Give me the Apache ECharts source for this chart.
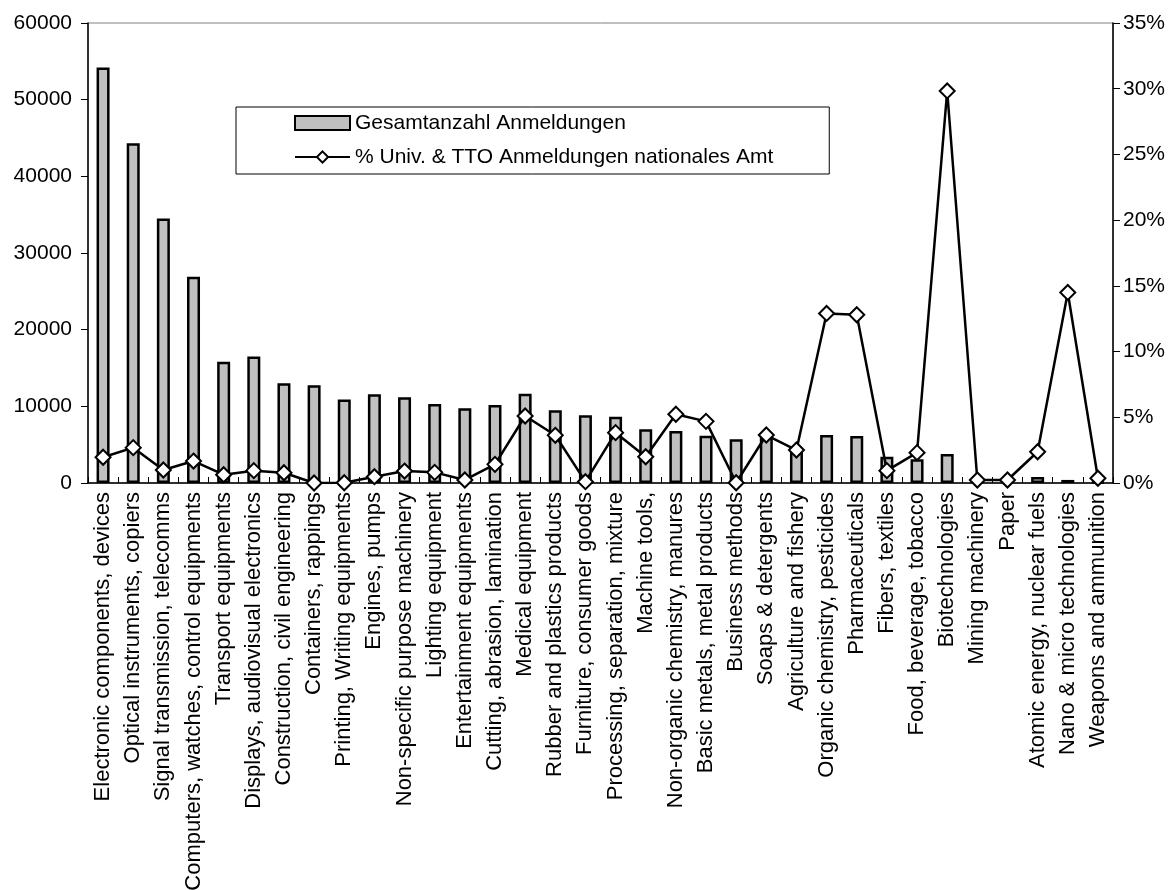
<!DOCTYPE html>
<html>
<head>
<meta charset="utf-8">
<script src="https://cdn.jsdelivr.net/npm/echarts@6/dist/echarts.min.js"></script>
<style>
html,body{margin:0;padding:0;background:#fff;}
#chart{width:1176px;height:890px;}
</style>
</head>
<body>
<div id="chart"></div>
<script>
const categories = [
  "Electronic components, devices",
  "Optical instruments, copiers",
  "Signal transmission, telecomms",
  "Computers, watches, control equipments",
  "Transport equipments",
  "Displays, audiovisual electronics",
  "Construction, civil engineering",
  "Containers, rappings",
  "Printing, Writing equipments",
  "Engines, pumps",
  "Non-specific purpose machinery",
  "Lighting equipment",
  "Entertainment equipments",
  "Cutting, abrasion, lamination",
  "Medical equipment",
  "Rubber and plastics products",
  "Furniture, consumer goods",
  "Processing, separation, mixture",
  "Machine tools,",
  "Non-organic chemistry, manures",
  "Basic metals, metal products",
  "Business methods",
  "Soaps & detergents",
  "Agriculture and fishery",
  "Organic chemistry, pesticides",
  "Pharmaceuticals",
  "Fibers, textiles",
  "Food, beverage, tobacco",
  "Biotechnologies",
  "Mining machinery",
  "Paper",
  "Atomic energy, nuclear fuels",
  "Nano & micro technologies",
  "Weapons and ammunition"
];
const totalFilings = [
  54200, 44300, 34500, 26900, 15800, 16500, 13000, 12750, 10900, 11570,
  11180, 10300, 9740, 10170, 11650, 9480, 8830, 8650, 7000, 6780,
  6170, 5700, 6300, 4600, 6260, 6130, 3430, 3090, 3780, 400,
  300, 780, 400, 100
];
const univShare = [
  1.96, 2.69, 0.99, 1.67, 0.63, 0.94, 0.78, 0.0, 0.02, 0.48,
  0.91, 0.81, 0.23, 1.42, 5.10, 3.63, 0.10, 3.83, 2.00, 5.23,
  4.69, 0.02, 3.65, 2.51, 12.9, 12.8, 0.94, 2.31, 29.83, 0.23,
  0.23, 2.38, 14.5, 0.36
];
const leftTicks = {min: 0, max: 60000, interval: 10000};
const rightTicks = {min: 0, max: 35, interval: 5};
const seriesNames = ["Gesamtanzahl Anmeldungen", "% Univ. & TTO Anmeldungen nationales Amt"];

const FONT = "'Liberation Sans', Arial, sans-serif";
const chart = echarts.init(document.getElementById('chart'), null, {renderer: 'canvas'});
chart.setOption({
  animation: false,
  backgroundColor: '#fff',
  textStyle: {fontFamily: FONT, color: '#000'},
  grid: {left: 88, right: 63, top: 23, bottom: 407, show: true, borderColor: '#808080', borderWidth: 1, containLabel: false, outerBoundsMode: 'none'},
  legend: {
    orient: 'vertical',
    left: 236,
    top: 107,
    padding: [4, 56, 5, 58],
    borderColor: '#000',
    borderWidth: 1,
    itemWidth: 55,
    itemHeight: 14,
    itemGap: 10,
    textStyle: {fontFamily: FONT, fontSize: 21, color: '#000', lineHeight: 24},
    data: [
      {name: seriesNames[0], icon: 'rect'},
      {name: seriesNames[1]}
    ]
  },
  xAxis: {
    type: 'category',
    data: categories,
    axisLine: {lineStyle: {color: '#000', width: 1.5}},
    axisTick: {show: true, inside: true, length: 6, lineStyle: {color: '#000'}},
    axisLabel: {rotate: 90, interval: 0, fontSize: 22, color: '#000', fontFamily: FONT, margin: 9}
  },
  yAxis: [
    {
      type: 'value',
      min: leftTicks.min, max: leftTicks.max, interval: leftTicks.interval,
      splitLine: {show: false},
      axisLine: {show: true, lineStyle: {color: '#000', width: 1.5}},
      axisTick: {show: true, length: 7, lineStyle: {color: '#000'}},
      axisLabel: {fontSize: 21, color: '#000', fontFamily: FONT, margin: 16, formatter: function (v) { return String(v); }}
    },
    {
      type: 'value',
      position: 'right',
      min: rightTicks.min, max: rightTicks.max, interval: rightTicks.interval,
      splitLine: {show: false},
      axisLine: {show: true, lineStyle: {color: '#000', width: 1.5}},
      axisTick: {show: true, length: 7, lineStyle: {color: '#000'}},
      axisLabel: {fontSize: 21, color: '#000', fontFamily: FONT, margin: 10, formatter: '{value}%'}
    }
  ],
  series: [
    {
      name: seriesNames[0],
      type: 'bar',
      data: totalFilings,
      barWidth: 13,
      itemStyle: {color: '#c0c0c0', borderColor: '#000', borderWidth: 2.5}
    },
    {
      name: seriesNames[1],
      type: 'line',
      yAxisIndex: 1,
      data: univShare,
      symbol: 'diamond',
      symbolSize: 15,
      showAllSymbol: true,
      lineStyle: {color: '#000', width: 2.5},
      itemStyle: {color: '#fff', borderColor: '#000', borderWidth: 2}
    }
  ]
});
</script>
</body>
</html>
